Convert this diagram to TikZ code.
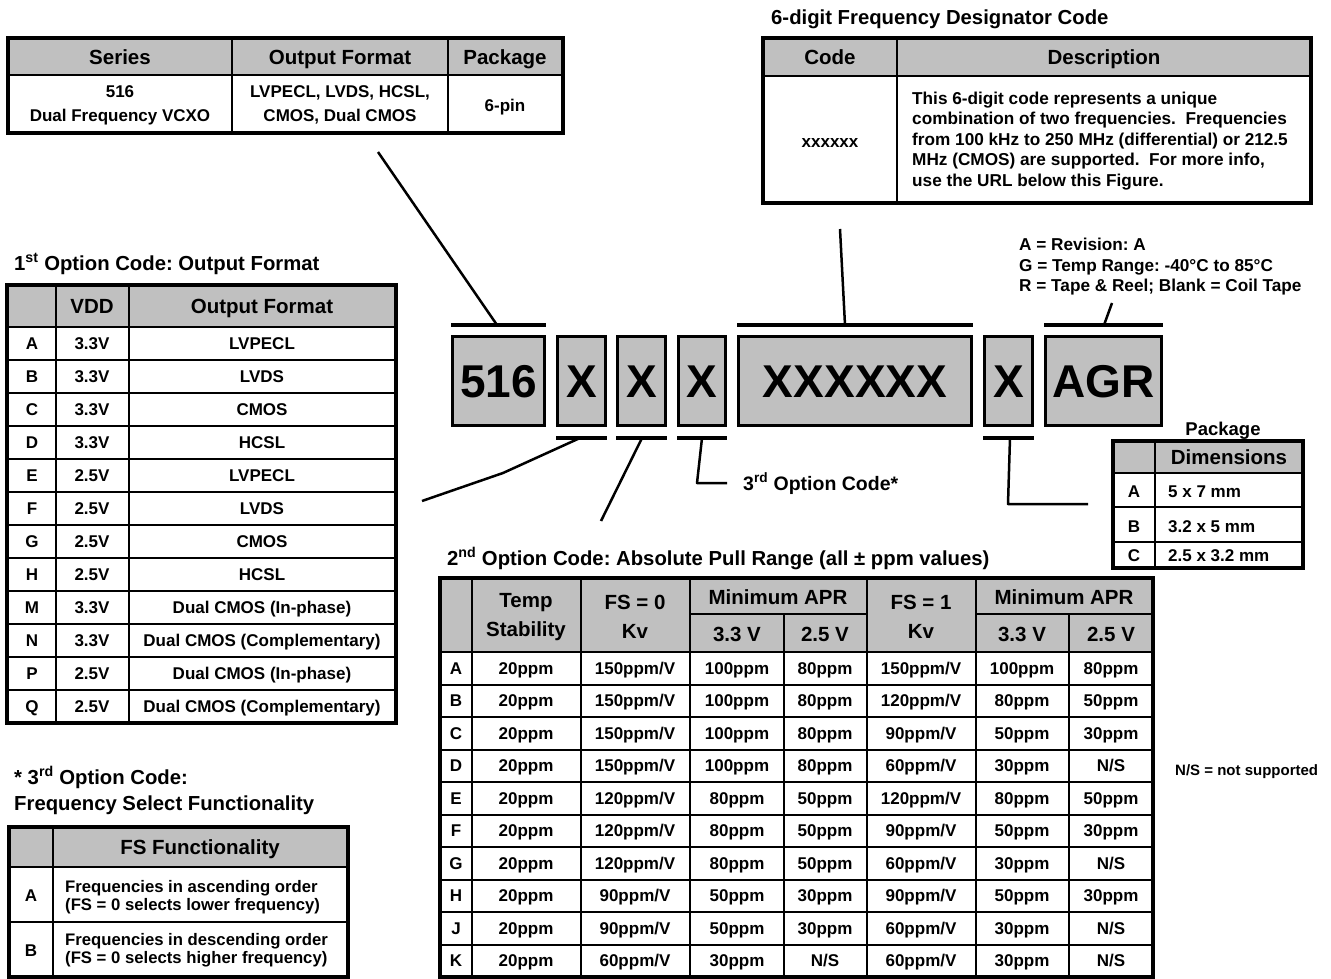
\documentclass[tikz,border=0pt]{standalone}
\usepackage{fontspec}
\setmainfont{Liberation Sans}
\usetikzlibrary{calc}
\definecolor{hdrgray}{RGB}{192,192,192}
\frenchspacing
\newcommand{\cellf}{\fontsize{17}{19}\selectfont\bfseries}
\newcommand{\descf}{\fontsize{17.2}{20.5}\selectfont\bfseries}
\newcommand{\headf}{\fontsize{20.5}{29}\selectfont\bfseries}
\newcommand{\titlef}{\fontsize{20.3}{26}\selectfont\bfseries}
\newcommand{\codef}{\fontsize{46}{50}\selectfont\bfseries}
\tikzset{
  frame/.style={line width=4pt},
  grid/.style={line width=2pt},
  hdr/.style={fill=hdrgray},
  cell/.style={font=\cellf, inner sep=0pt, text height=12.2pt, text depth=0pt},
  mcell/.style={font=\cellf, inner sep=0pt},
  head/.style={font=\headf, inner sep=0pt, text height=14.7pt, text depth=0pt},
  mhead/.style={font=\headf, inner sep=0pt, align=center},
  ttl/.style={font=\titlef, inner sep=0pt, anchor=west, text height=14.6pt, text depth=0pt},
  codebox/.style={draw, line width=3pt, fill=hdrgray, font=\codef, inner sep=0pt, text height=33pt, text depth=0pt, minimum height=89pt},
  bar/.style={line width=4pt},
  lead/.style={line width=2.5pt, line join=round}
}
\begin{document}
\begin{tikzpicture}[x=1pt,y=-1pt]
        \useasboundingbox (0,0) rectangle (1331,979);
        \def\rh{33}   % row height, 1st option table
        \def\rb{32.5} % row height, 2nd option table

        % series table
        \fill[hdr] (8,38) rectangle (563,75);
        \draw[grid] (8,75) -- (563,75) (232,38) -- (232,133) (448,38) -- (448,133);
        \draw[frame] (8,38) rectangle (563,133);
        \node[head] (serH) at (120,57) {Series};
        \node[head] (outH) at (340,57) {Output Format};
        \node[head] (pkgH) at (505,57) {Package};
        \node[mcell, align=center, font=\fontsize{17}{24}\selectfont\bfseries] (serB) at (120,105) {516\\Dual Frequency VCXO};
        \node[mcell, align=center, font=\fontsize{17}{24}\selectfont\bfseries] (outB) at (340,105) {LVPECL, LVDS, HCSL,\\CMOS, Dual CMOS};
        \node[cell] (pkgB) at (505,105) {6-pin};

        % frequency designator table
        \node[ttl] (freqT) at (771,17) {6-digit Frequency Designator Code};
        \fill[hdr] (763,38) rectangle (1311,76);
        \draw[grid] (763,76) -- (1311,76) (897,38) -- (897,203);
        \draw[frame] (763,38) rectangle (1311,203);
        \node[head] (codeH) at (830,57) {Code};
        \node[head] (descH) at (1104,57) {Description};
        \node[cell] (codeB) at (830,141) {xxxxxx};
        \node[mcell, font=\descf, align=left, anchor=west] (descB) at (912,141) {This 6-digit code represents a unique\\combination of two frequencies.\ \ Frequencies\\from 100 kHz to 250 MHz (differential) or 212.5\\MHz (CMOS) are supported.\ \ For more info,\\use the URL below this Figure.};

        \node[mcell, font=\descf, align=left, anchor=west] (agrT) at (1019,267) {A = Revision: A\\G = Temp Range: -40°C to 85°C\\R = Tape \& Reel; Blank = Coil Tape};

        % part number boxes
        \node[codebox, minimum width=92pt] (c516) at (498.5,381) {516};
        \node[codebox, minimum width=48pt] (cx1) at (581.5,381) {X};
        \node[codebox, minimum width=48pt] (cx2) at (641.5,381) {X};
        \node[codebox, minimum width=47pt] (cx3) at (702,381) {X};
        \node[codebox, minimum width=233pt] (cfreq) at (855,381) {XXXXXX};
        \node[codebox, minimum width=48pt] (cx4) at (1008.5,381) {X};
        \node[codebox, minimum width=116pt] (cagr) at (1103.5,381) {AGR};
        \foreach \b in {c516,cfreq,cagr}
                \draw[bar] ([yshift=10pt]\b.north west) -- ([yshift=10pt]\b.north east);
        \foreach \b in {cx1,cx2,cx3,cx4}
                \draw[bar] ([yshift=-11pt]\b.south west) -- ([yshift=-11pt]\b.south east);

        % leader lines
        \coordinate (e516) at (378,152);
        \coordinate (efreq) at (840,229);
        \coordinate (eagr) at (1112,303);
        \coordinate (ex1) at (422,501);
        \coordinate (ex2) at (601,521);
        \coordinate (ex4) at (1088,504);
        \draw[lead] (497,325) -- (e516);
        \draw[lead] (845,325) -- (efreq);
        \draw[lead] (1104,325) -- (eagr);
        \draw[lead] (580,438) -- (503,473) -- (ex1);
        \draw[lead] (642,438) -- (ex2);
        \node[ttl, font=\fontsize{19.5}{24}\selectfont\bfseries] (opt3) at (743,483) {3\textsuperscript{rd} Option Code*};
        \draw[lead] (702,438) -- (697,483) -- ([xshift=-16pt]opt3.west);
        \draw[lead] (1010,438) -- (1008,504) -- (ex4);

        % package table
        \node[ttl, anchor=center, font=\fontsize{18.5}{22}\selectfont\bfseries] (pkgT) at (1223,428) {Package};
        \fill[hdr] (1113,441) rectangle (1303,473);
        \draw[grid] (1113,473) -- (1303,473) (1113,507) -- (1303,507) (1113,542) -- (1303,542) (1155,441) -- (1155,568);
        \draw[frame] (1113,441) rectangle (1303,568);
        \node[head] (dimH) at (1229,457) {Dimensions};
        \foreach \l/\d/\y in {A/5 x 7 mm/491, B/3.2 x 5 mm/526, C/2.5 x 3.2 mm/555} {
                \node[cell] (pk\l) at (1134,\y) {\l};
                \node[cell, anchor=west] (dim\l) at (1168,\y) {\d};}

        \node[cell, font=\fontsize{15}{18}\selectfont\bfseries, anchor=west] (nsT) at (1175,769) {N/S = not supported};

        % 1st option code
        \node[ttl] (opt1) at (14,263) {1\textsuperscript{st} Option Code: Output Format};
        \fill[hdr] (7,285) rectangle (396,327);
        \draw[grid] (56,285) -- (56,723) (129,285) -- (129,723);
        \foreach \i in {0,...,11} \draw[grid] (7,{327+\rh*\i}) -- (396,{327+\rh*\i});
        \draw[frame] (7,285) rectangle (396,723);
        \node[head] (vddH) at (92,306) {VDD};
        \node[head] (ofH) at (262,306) {Output Format};
        \foreach \l/\v/\f [count=\i] in {A/3.3V/LVPECL, B/3.3V/LVDS, C/3.3V/CMOS, D/3.3V/HCSL, E/2.5V/LVPECL, F/2.5V/LVDS, G/2.5V/CMOS, H/2.5V/HCSL, M/3.3V/Dual CMOS (In-phase), N/3.3V/Dual CMOS (Complementary), P/2.5V/Dual CMOS (In-phase), Q/2.5V/Dual CMOS (Complementary)} {
                \node[cell] (of\l) at (32,{327+\rh*(\i-0.5)}) {\l};
                \node[cell] (vdd\l) at (92,{327+\rh*(\i-0.5)}) {\v};
                \node[cell] (fmt\l) at (262,{327+\rh*(\i-0.5)}) {\f};}

        % 3rd option code
        \node[ttl] (fsT1) at (14,777) {* 3\textsuperscript{rd} Option Code:};
        \node[ttl] (fsT2) at (14,803) {Frequency Select Functionality};
        \fill[hdr] (9,827) rectangle (348,867);
        \draw[grid] (9,867) -- (348,867) (9,922) -- (348,922) (53,827) -- (53,977);
        \draw[frame] (9,827) rectangle (348,977);
        \node[head] (fsH) at (200,847) {FS Functionality};
        \node[cell] (fsA) at (31,895) {A};
        \node[mcell, align=left, anchor=west, font=\fontsize{16.7}{17.5}\selectfont\bfseries] (fsAt) at (65,897) {Frequencies in ascending order\\(FS = 0 selects lower frequency)};
        \node[cell] (fsB) at (31,950) {B};
        \node[mcell, align=left, anchor=west, font=\fontsize{16.7}{17.5}\selectfont\bfseries] (fsBt) at (65,950) {Frequencies in descending order\\(FS = 0 selects higher frequency)};

        % 2nd option code
        \node[ttl] (opt2) at (447,558) {2\textsuperscript{nd} Option Code: Absolute Pull Range (all ± ppm values)};
        \fill[hdr] (440,578) rectangle (1153,652);
        \draw[grid] (440,652) -- (1153,652) (690,614) -- (867,614) (976,614) -- (1153,614);
        \foreach \c in {472,581,690,867,976} \draw[grid] (\c,578) -- (\c,977);
        \foreach \c in {784,1069} \draw[grid] (\c,614) -- (\c,977);
        \foreach \i in {1,...,9} \draw[grid] (440,{652+\rb*\i}) -- (1153,{652+\rb*\i});
        \draw[frame] (440,578) rectangle (1153,977);
        \node[mhead] (tsH) at (526,617) {Temp\\Stability};
        \node[mhead] (k0H) at (635,617) {FS = 0\\Kv};
        \node[head] (m0H) at (778,597) {Minimum APR};
        \node[head] (m0a) at (737,634) {3.3 V};
        \node[head] (m0b) at (825,634) {2.5 V};
        \node[mhead] (k1H) at (921,617) {FS = 1\\Kv};
        \node[head] (m1H) at (1064,597) {Minimum APR};
        \node[head] (m1a) at (1022,634) {3.3 V};
        \node[head] (m1b) at (1111,634) {2.5 V};
        \foreach \va/\vb/\vc/\vd/\ve/\vf/\vg/\vh [count=\i] in {
                A/20ppm/150ppm\slash V/100ppm/80ppm/150ppm\slash V/100ppm/80ppm,
                B/20ppm/150ppm\slash V/100ppm/80ppm/120ppm\slash V/80ppm/50ppm,
                C/20ppm/150ppm\slash V/100ppm/80ppm/90ppm\slash V/50ppm/30ppm,
                D/20ppm/150ppm\slash V/100ppm/80ppm/60ppm\slash V/30ppm/N\slash S,
                E/20ppm/120ppm\slash V/80ppm/50ppm/120ppm\slash V/80ppm/50ppm,
                F/20ppm/120ppm\slash V/80ppm/50ppm/90ppm\slash V/50ppm/30ppm,
                G/20ppm/120ppm\slash V/80ppm/50ppm/60ppm\slash V/30ppm/N\slash S,
                H/20ppm/90ppm\slash V/50ppm/30ppm/90ppm\slash V/50ppm/30ppm,
                J/20ppm/90ppm\slash V/50ppm/30ppm/60ppm\slash V/30ppm/N\slash S,
                K/20ppm/60ppm\slash V/30ppm/N\slash S/60ppm\slash V/30ppm/N\slash S} {
                \pgfmathsetmacro{\ry}{652+\rb*(\i-0.5)}
                \node[cell] (apr\va) at (456,\ry) {\va};
                \node[cell] (ts\va) at (526,\ry) {\vb};
                \node[cell] (ka\va) at (635,\ry) {\vc};
                \node[cell] (aa\va) at (737,\ry) {\vd};
                \node[cell] (ab\va) at (825,\ry) {\ve};
                \node[cell] (kb\va) at (921,\ry) {\vf};
                \node[cell] (ba\va) at (1022,\ry) {\vg};
                \node[cell] (bb\va) at (1111,\ry) {\vh};}
\end{tikzpicture}
\end{document}
